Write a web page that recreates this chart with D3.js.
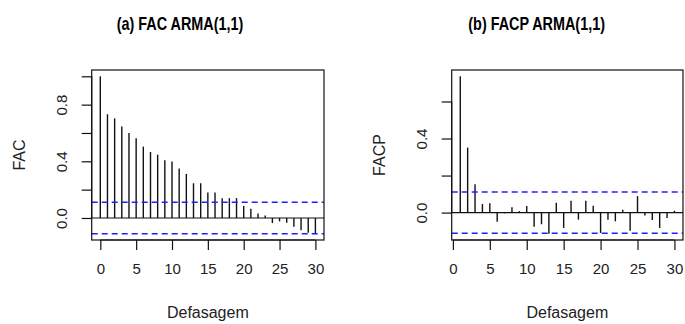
<!DOCTYPE html>
<html>
<head>
<meta charset="utf-8">
<script src="https://cdn.jsdelivr.net/npm/d3@7"></script>
<style>
  body { margin: 0; background: #fff; }
  svg { display: block; font-family: "Liberation Sans", Arial, sans-serif; }
</style>
</head>
<body>
<div id="chart"></div>
<script>
// ACF of the ARMA(1,1) series, lags 0..30
const acfLags = d3.range(0, 31);
const acfValues = [1.0, 0.732, 0.703, 0.646, 0.599, 0.563, 0.504, 0.466, 0.447, 0.408,
  0.399, 0.349, 0.311, 0.245, 0.245, 0.179, 0.18, 0.14, 0.14, 0.14,
  0.085, 0.066, 0.031, 0.018, -0.036, -0.024, -0.033, -0.062, -0.086, -0.105, -0.11];

// PACF, lags 1..30
const pacfLags = d3.range(1, 31);
const pacfValues = [0.736, 0.351, 0.153, 0.046, 0.051, -0.049, -0.004, 0.029, 0.008, 0.036,
  -0.076, -0.063, -0.114, 0.053, -0.083, 0.064, -0.038, 0.064, 0.037, -0.11,
  -0.038, -0.047, 0.016, -0.098, 0.089, -0.016, -0.04, -0.083, -0.029, 0.01];

const ciLimit = 0.111;
const xTicks = [0, 5, 10, 15, 20, 25, 30];
const acfYTicks = [0, 0.2, 0.4, 0.6, 0.8, 1.0];
const acfYLabels = [0, 0.4, 0.8];
const pacfYTicks = [0, 0.2, 0.4, 0.6];
const pacfYLabels = [0, 0.4];

const width = 685, height = 324;

const svg = d3.select('#chart').append('svg')
  .attr('width', width)
  .attr('height', height);

// R style: pad the data range by 4% on each side
function padded(lo, hi) {
  const d = (hi - lo) * 0.04;
  return [lo - d, hi + d];
}

function drawPanel(opts) {
  const { left, right, top, bottom, lags, values, yTicks, yLabels, title, titleX, ylab } = opts;
  const g = svg.append('g');

  const x = d3.scaleLinear()
    .domain(padded(d3.min(lags), d3.max(lags)))
    .range([left, right]);
  const y = d3.scaleLinear()
    .domain(padded(Math.min(d3.min(values), -ciLimit), Math.max(d3.max(values), ciLimit)))
    .range([bottom, top]);

  // bars
  g.selectAll('line.bar')
    .data(lags)
    .join('line')
    .attr('class', 'bar')
    .attr('x1', d => x(d)).attr('x2', d => x(d))
    .attr('y1', y(0))
    .attr('y2', (d, i) => y(values[i]))
    .attr('stroke', '#111')
    .attr('stroke-width', 1.4);

  // zero line
  g.append('line')
    .attr('x1', left).attr('x2', right)
    .attr('y1', y(0)).attr('y2', y(0))
    .attr('stroke', '#111').attr('stroke-width', 1.2);

  // confidence limits
  g.selectAll('line.ci')
    .data([ciLimit, -ciLimit])
    .join('line')
    .attr('class', 'ci')
    .attr('x1', left).attr('x2', right)
    .attr('y1', d => y(d)).attr('y2', d => y(d))
    .attr('stroke', '#2020ff')
    .attr('stroke-width', 1.5)
    .attr('stroke-dasharray', '6,4');

  // box
  g.append('rect')
    .attr('x', left).attr('y', top)
    .attr('width', right - left).attr('height', bottom - top)
    .attr('fill', 'none')
    .attr('stroke', '#111').attr('stroke-width', 1.2);

  // x axis
  const xAxis = d3.axisBottom(x)
    .tickValues(xTicks)
    .tickSize(10)
    .tickPadding(13)
    .tickFormat(d3.format('d'));
  const gx = g.append('g')
    .attr('transform', `translate(0,${bottom})`)
    .call(xAxis);
  gx.select('.domain')
    .attr('d', `M${x(xTicks[0])},0H${x(xTicks[xTicks.length - 1])}`)
    .attr('stroke', '#111').attr('stroke-width', 1.2);
  gx.selectAll('.tick line').attr('stroke', '#111').attr('stroke-width', 1.2);
  gx.selectAll('.tick text')
    .attr('font-size', 15)
    .attr('fill', '#222')
    .attr('font-family', '"Liberation Sans", Arial, sans-serif');

  // y axis: ticks everywhere, labels only where R kept them
  const yAxis = d3.axisLeft(y)
    .tickValues(yTicks)
    .tickSize(10)
    .tickFormat(d => yLabels.some(v => Math.abs(v - d) < 1e-9) ? d3.format('.1f')(d) : '');
  const gy = g.append('g')
    .attr('transform', `translate(${left},0)`)
    .call(yAxis);
  gy.select('.domain')
    .attr('d', `M0,${y(yTicks[0])}V${y(yTicks[yTicks.length - 1])}`)
    .attr('stroke', '#111').attr('stroke-width', 1.2);
  gy.selectAll('.tick line').attr('stroke', '#111').attr('stroke-width', 1.2);
  gy.selectAll('.tick text')
    .attr('font-size', 15)
    .attr('fill', '#222')
    .attr('font-family', '"Liberation Sans", Arial, sans-serif')
    .attr('x', null).attr('dy', null)
    .attr('text-anchor', 'middle')
    .attr('dominant-baseline', 'central')
    .attr('transform', 'translate(-30,0) rotate(-90)');

  // title
  g.append('text')
    .attr('transform', `translate(${titleX},30) scale(0.8,1)`)
    .attr('font-size', 18)
    .attr('font-weight', 'bold')
    .attr('fill', '#000')
    .text(title);

  // axis titles
  g.append('text')
    .attr('x', (left + right) / 2)
    .attr('y', 312)
    .attr('text-anchor', 'middle')
    .attr('dominant-baseline', 'central')
    .attr('font-size', 16)
    .attr('fill', '#222')
    .text('Defasagem');

  g.append('text')
    .attr('transform', `translate(${left - 72},${(top + bottom) / 2}) rotate(-90)`)
    .attr('text-anchor', 'middle')
    .attr('dominant-baseline', 'central')
    .attr('font-size', 16)
    .attr('fill', '#222')
    .text(ylab);
}

drawPanel({
  left: 91.7, right: 324, top: 70, bottom: 240,
  lags: acfLags, values: acfValues,
  yTicks: acfYTicks, yLabels: acfYLabels,
  title: '(a) FAC ARMA(1,1)', titleX: 116.7, ylab: 'FAC'
});

drawPanel({
  left: 451.7, right: 683, top: 70, bottom: 240,
  lags: pacfLags, values: pacfValues,
  yTicks: pacfYTicks, yLabels: pacfYLabels,
  title: '(b) FACP ARMA(1,1)', titleX: 468.3, ylab: 'FACP'
});
</script>
</body>
</html>
